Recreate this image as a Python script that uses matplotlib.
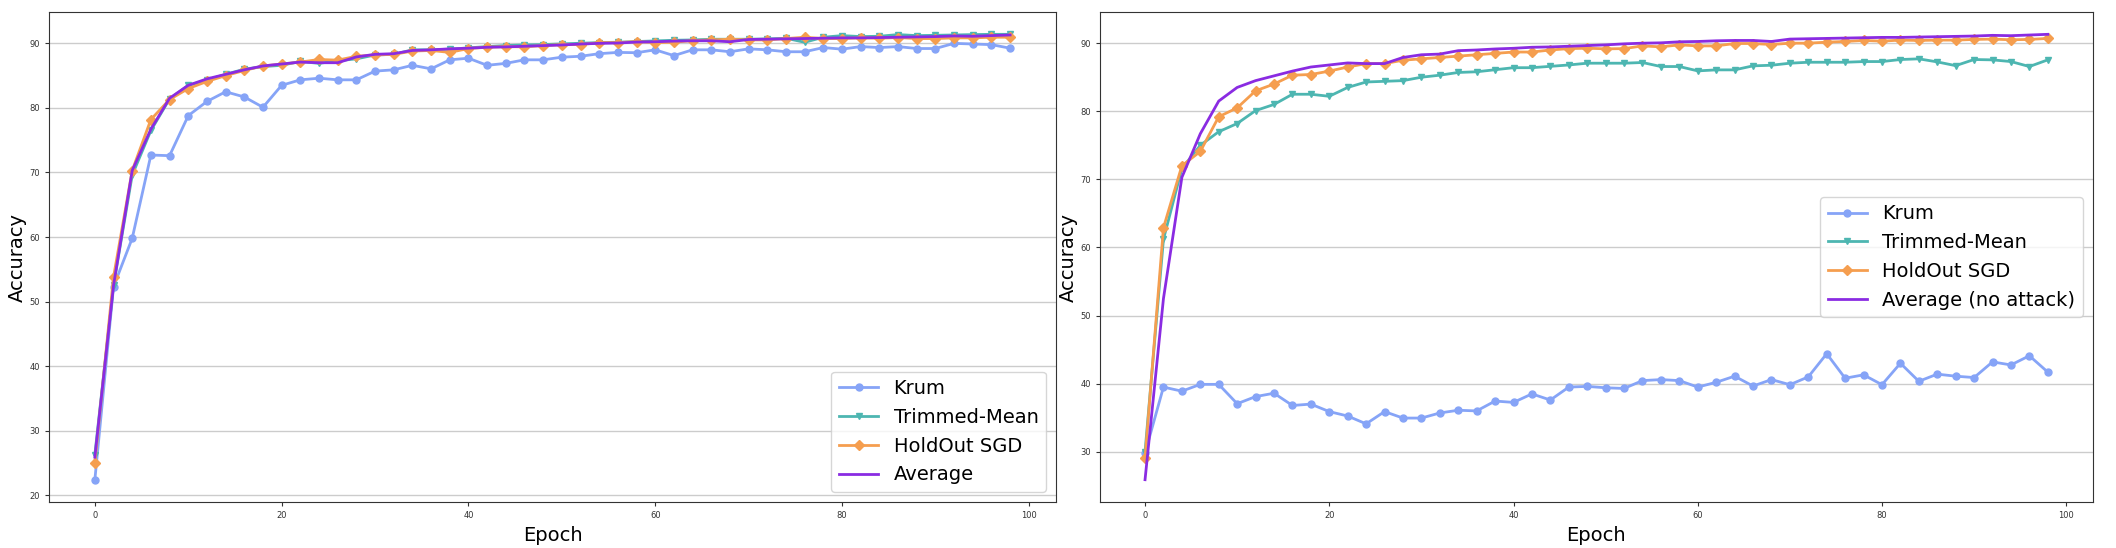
import numpy as np
import matplotlib.pyplot as plt

epochs = np.arange(0, 100, 2)

# panel 1 : attack 1
krum_1 = [22.4, 52.3, 59.8, 72.7, 72.6, 78.8, 81.0, 82.5, 81.7, 80.1,
          83.5, 84.35, 84.6, 84.35, 84.35, 85.7, 85.9, 86.6, 86.05, 87.45,
          87.7, 86.6, 86.9, 87.45, 87.45, 87.86, 88.0, 88.4, 88.6, 88.55,
          89.0, 88.1, 89.0, 89.0, 88.7, 89.15, 89.0, 88.7, 88.7, 89.35,
          89.1, 89.5, 89.35, 89.5, 89.2, 89.2, 90.0, 89.9, 89.8, 89.25]
trimmed_1 = [26.3, 52.5, 69.6, 76.5, 81.4, 83.5, 84.3, 85.2, 86.0, 86.4,
             86.6, 87.2, 86.9, 87.3, 87.6, 88.2, 88.3, 89.0, 89.0, 89.1,
             89.3, 89.5, 89.66, 89.76, 89.81, 89.92, 90.02, 90.12, 90.17, 90.28,
             90.38, 90.48, 90.53, 90.64, 90.64, 90.64, 90.69, 90.79, 90.17, 90.95,
             91.2, 91.05, 91.1, 91.36, 91.2, 91.25, 91.3, 91.36, 91.4, 91.4]
holdout_1 = [25.06, 53.8, 70.3, 78.2, 81.3, 83.0, 84.1, 85.0, 85.8, 86.5,
             86.8, 87.1, 87.5, 87.4, 88.0, 88.2, 88.3, 88.8, 88.9, 88.6,
             89.2, 89.4, 89.5, 89.46, 89.66, 89.81, 89.81, 90.12, 90.12, 90.28,
             90.12, 90.17, 90.43, 90.53, 90.64, 90.53, 90.53, 90.74, 90.95, 90.74,
             90.74, 90.85, 90.79, 90.9, 90.74, 90.74, 90.85, 90.85, 90.95, 90.95]

# panel 2 : attack 2
krum_2 = [29.8, 39.5, 38.9, 39.9, 39.9, 37.06, 38.1, 38.6, 36.8, 37.0,
          35.9, 35.25, 34.1, 35.9, 34.95, 34.95, 35.7, 36.1, 36.0, 37.45,
          37.25, 38.5, 37.6, 39.5, 39.6, 39.4, 39.3, 40.45, 40.6, 40.45,
          39.5, 40.2, 41.1, 39.65, 40.6, 39.85, 41.0, 44.4, 40.8, 41.3,
          39.85, 43.0, 40.35, 41.4, 41.1, 40.9, 43.2, 42.75, 44.1, 41.7]
trimmed_2 = [30.0, 61.2, 71.6, 75.0, 77.0, 78.2, 80.1, 81.0, 82.5, 82.5,
             82.2, 83.5, 84.3, 84.4, 84.5, 85.0, 85.3, 85.7, 85.8, 86.1,
             86.4, 86.4, 86.6, 86.8, 87.06, 87.06, 87.06, 87.16, 86.57, 86.57,
             85.93, 86.08, 86.08, 86.67, 86.76, 87.06, 87.2, 87.2, 87.2, 87.3,
             87.3, 87.6, 87.7, 87.25, 86.7, 87.6, 87.55, 87.3, 86.57, 87.55]
holdout_2 = [29.1, 62.9, 72.0, 74.1, 79.2, 80.5, 83.0, 84.0, 85.3, 85.4,
             85.9, 86.5, 87.0, 87.0, 87.5, 87.7, 87.9, 88.1, 88.3, 88.5,
             88.7, 88.7, 89.0, 89.2, 89.26, 89.17, 89.2, 89.6, 89.46, 89.75,
             89.6, 89.6, 89.95, 89.95, 89.8, 90.0, 90.0, 90.15, 90.25, 90.4,
             90.3, 90.45, 90.4, 90.45, 90.45, 90.55, 90.6, 90.5, 90.55, 90.7]

# same baseline in both panels
average = [25.9, 52.5, 70.3, 76.7, 81.5, 83.5, 84.5, 85.2, 85.9, 86.5,
           86.8, 87.1, 87.0, 87.0, 87.9, 88.3, 88.4, 88.9, 89.0, 89.15,
           89.25, 89.4, 89.45, 89.55, 89.65, 89.75, 89.9, 90.0, 90.05, 90.2,
           90.25, 90.35, 90.4, 90.4, 90.25, 90.6, 90.65, 90.7, 90.75, 90.8,
           90.85, 90.85, 90.9, 90.95, 91.0, 91.05, 91.15, 91.1, 91.2, 91.3]

panels = [
    (krum_1, trimmed_1, holdout_1, 'Average', 'lower right'),
    (krum_2, trimmed_2, holdout_2, 'Average (no attack)', 'center right'),
]

c_krum = '#86a4f7'
c_trim = '#4db6b1'
c_hold = '#f59e4f'
c_avg = '#8a2be2'

fig = plt.figure(figsize=(21.16, 5.48), dpi=100)
positions = [[0.0232, 0.084, 0.4758, 0.894], [0.5198, 0.084, 0.4693, 0.894]]

for pos, (krum, trim, hold, avg_label, loc) in zip(positions, panels):
    ax = fig.add_axes(pos)
    ax.plot(epochs, krum, color=c_krum, marker='o', markersize=5, lw=2, label='Krum')
    ax.plot(epochs, trim, color=c_trim, marker='v', markersize=5, lw=2, label='Trimmed-Mean')
    ax.plot(epochs, hold, color=c_hold, marker='D', markersize=5, lw=2, label='HoldOut SGD')
    ax.plot(epochs, average, color=c_avg, lw=2, label=avg_label)
    ax.grid(True, axis='y', color='#cccccc', lw=1)
    ax.set_axisbelow(True)
    for s in ax.spines.values():
        s.set_color('#333333')
    ax.tick_params(labelsize=6, colors='#333333', length=3)
    ax.set_xlabel('Epoch', fontsize=14)
    ax.set_ylabel('Accuracy', fontsize=14, labelpad=2)
    ax.legend(loc=loc, fontsize=14)

plt.savefig('out.png', dpi=100)
